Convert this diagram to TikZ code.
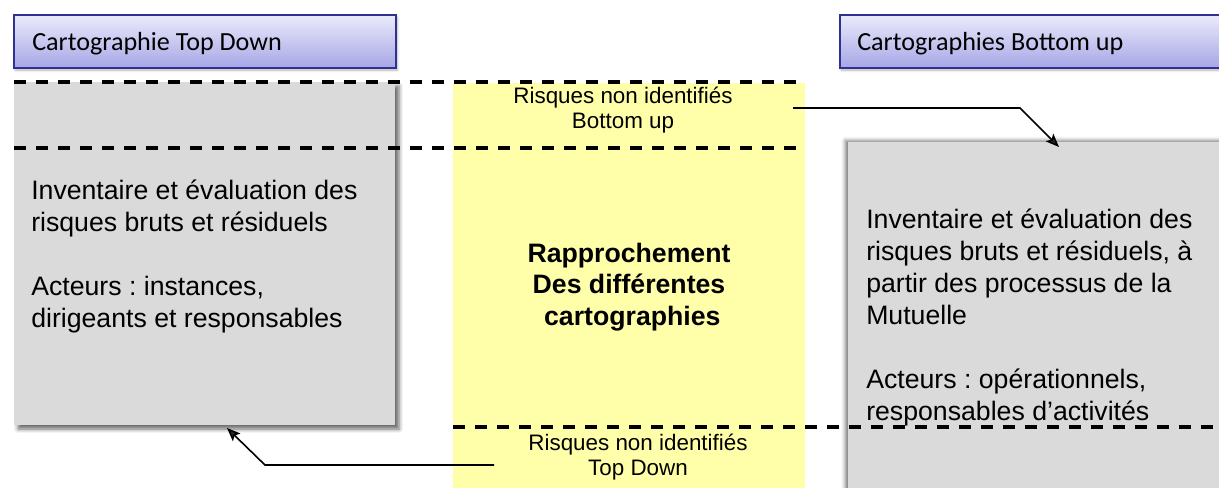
\documentclass[tikz,border=0pt]{standalone}
\usepackage{fontspec}
\setmainfont{Liberation Sans}
\newfontfamily\calibrifont{Carlito}
\usetikzlibrary{arrows.meta,shadows.blur}
\frenchspacing

\definecolor{titletop}{RGB}{234,234,251}
\definecolor{titlebot}{RGB}{166,166,230}
\definecolor{titleline}{RGB}{46,49,146}
\definecolor{boxgray}{RGB}{218,218,218}
\definecolor{paleyellow}{RGB}{255,255,170}

\tikzset{
  titlebox/.style={draw=titleline, line width=1.4pt, top color=titletop, bottom color=titlebot,
    blur shadow={shadow xshift=1pt, shadow yshift=-1.5pt, shadow blur radius=2pt, shadow opacity=30}},
  mapbox/.style={fill=boxgray},
  sepline/.style={line width=2.5pt, dash pattern=on 9pt off 7.5pt},
  link/.style={line width=1.2pt, -{Stealth[length=10pt,width=8pt,inset=2pt]}},
  titletext/.style={anchor=base west, inner sep=0pt, font=\calibrifont\fontsize{19.6}{23}\selectfont},
  % multi-line nodes sit on the baseline of their last line
  bodytext/.style={anchor=base west, inner sep=0pt, align=left, font=\fontsize{20}{24}\selectfont},
  notetext/.style={anchor=base, inner sep=0pt, align=center, font=\fontsize{16.8}{18.75}\selectfont},
  keytext/.style={anchor=base, inner sep=0pt, align=center, font=\bfseries\fontsize{20}{23.5}\selectfont},
}

\begin{document}
\begin{tikzpicture}[x=0.75pt,y=0.75pt,yscale=-1,xscale=1]
  \useasboundingbox (0,0) rectangle (1219,487);
  % central column
  \fill[paleyellow] (453,83) rectangle (805,495);
  % the two maps
  \path[mapbox, blur shadow={shadow xshift=3pt, shadow yshift=-3pt, shadow blur radius=3pt, shadow opacity=60}]
    (14,82) rectangle (395,425);
  \path[mapbox, blur shadow={shadow xshift=-2pt, shadow yshift=1pt, shadow blur radius=3pt, shadow opacity=55}]
    (848,142) rectangle (1240,510);
  % headers
  \path[titlebox] (14,15) rectangle (396,68);
  \path[titlebox] (840,15) rectangle (1240,68);
  \node[titletext] (tdtitle) at (32,50) {Cartographie Top Down};
  \node[titletext] (butitle) at (857,50) {Cartographies Bottom up};
  % separators
  \draw[sepline] (14,82) -- (805,82);
  \draw[sepline] (14,148) -- (805,148);
  \draw[sepline] (453,427) -- (1219,427);
  % texts
  \node[bodytext] (tdinv) at (31,231) {Inventaire et évaluation des\\risques bruts et résiduels};
  \node[bodytext] (tdact) at (31,327) {Acteurs : instances,\\dirigeants et responsables};
  \node[bodytext] (buinv) at (866,324) {Inventaire et évaluation des\\risques bruts et résiduels, à\\partir des processus de la\\Mutuelle};
  \node[bodytext] (buact) at (866,420) {Acteurs : opérationnels,\\responsables d’activités};
  \node[keytext] (rapp) at (629,325) {Rapprochement\\Des différentes\\\hspace*{5pt}cartographies};
  \node[notetext] (bunote) at (623,128) {Risques non identifiés\\Bottom up};
  \node[notetext] (tdnote) at (638,475) {Risques non identifiés\\Top Down};
  % links
  \coordinate (bufrom) at (793,108);
  \coordinate (bubend) at (1020,108);
  \coordinate (buto) at (1059,147);
  \coordinate (tdfrom) at (494,465);
  \coordinate (tdbend) at (265,465);
  \coordinate (tdto) at (227,428);
  \draw[link] (bufrom) -- (bubend) -- (buto);
  \draw[link] (tdfrom) -- (tdbend) -- (tdto);
\end{tikzpicture}
\end{document}
